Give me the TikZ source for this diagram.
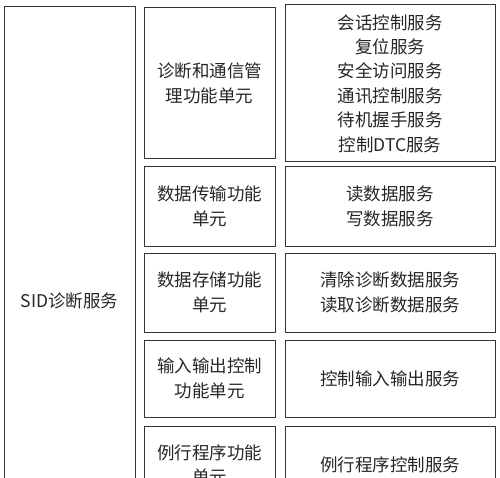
\documentclass[tikz,border=0pt]{standalone}
\usepackage{fontspec}
\newfontfamily\cjk{Noto Sans CJK SC}
\begin{document}
\begin{tikzpicture}[x=1pt, y=-1pt, line join=round,
	box/.style={draw=black!80, line width=1pt, rectangle, inner sep=0pt, align=center,
		text=black!85, font=\cjk\fontsize{17.5}{24.4}\selectfont},
	unit/.style={box, minimum width=131pt},
	serv/.style={box, minimum width=210pt}]
	\useasboundingbox (0,0) rectangle (500,478);
	\clip (0,0) rectangle (500,478);
	\node[box, minimum width=131pt, minimum height=588pt] (sid) at (69.5,301) {SID诊断服务};
	% function units
	\node[unit, minimum height=151pt] (u1) at (209.5,83.5) {诊断和通信管\\理功能单元};
	\node[unit, minimum height=79pt] (u2) at (209.5,206.5) {数据传输功能\\单元};
	\node[unit, minimum height=79pt] (u3) at (209.5,292.5) {数据存储功能\\单元};
	\node[unit, minimum height=77pt] (u4) at (209.5,378.5) {输入输出控制\\功能单元};
	\node[unit, minimum height=78pt] (u5) at (209.5,465) {例行程序功能\\单元};
	% services
	\node[serv, minimum height=157pt] (s1) at (390,83.5) {会话控制服务\\复位服务\\安全访问服务\\通讯控制服务\\待机握手服务\\控制DTC服务};
	\node[serv, minimum height=79pt] (s2) at (390,206.5) {读数据服务\\写数据服务};
	\node[serv, minimum height=79pt] (s3) at (390,292.5) {清除诊断数据服务\\读取诊断数据服务};
	\node[serv, minimum height=77pt] (s4) at (390,378.5) {控制输入输出服务};
	\node[serv, minimum height=78pt] (s5) at (390,465) {例行程序控制服务};
\end{tikzpicture}
\end{document}
